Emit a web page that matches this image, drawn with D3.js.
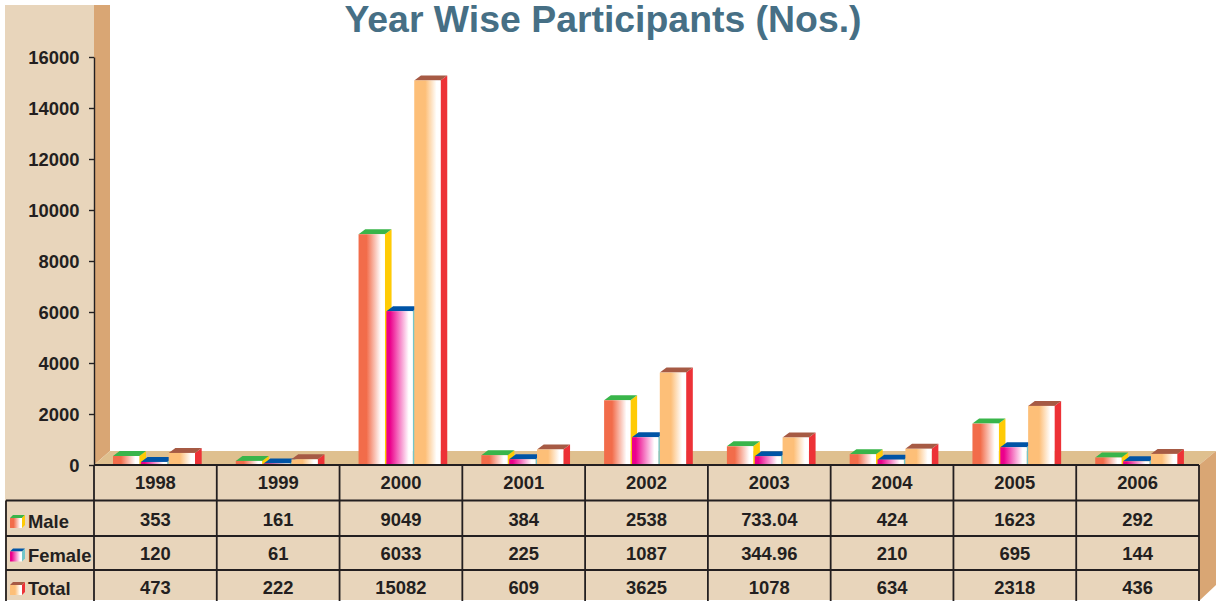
<!DOCTYPE html>
<html lang="en">
<head>
    <meta charset="UTF-8">
    <title>Year Wise Participants</title>
    <script src="https://d3js.org/d3.v7.min.js"></script>
    <style>
        html, body { margin: 0; padding: 0; background: #fff; overflow: hidden; }
        svg { display: block; }
        text { font-family: "Liberation Sans", Arial, sans-serif; font-weight: bold; fill: #231f20; }
    </style>
</head>
<body>
    <svg></svg>
    <script>
        const years = ["1998", "1999", "2000", "2001", "2002", "2003", "2004", "2005", "2006"];
        const seriesNames = ["Male", "Female", "Total"];
        const male = [353, 161, 9049, 384, 2538, 733.04, 424, 1623, 292];
        const female = [120, 61, 6033, 225, 1087, 344.96, 210, 695, 144];
        const total = [473, 222, 15082, 609, 3625, 1078, 634, 2318, 436];
        const yTicks = [0, 2000, 4000, 6000, 8000, 10000, 12000, 14000, 16000];

        const width = 1218;
        const height = 601;
        const plotLeft = 94, plotRight = 1199, plotTop = 57, base = 465;
        const dx = 6.7, dy = 5; // 3d depth of the bars
        const wallDx = 16, wallDy = 14;
        const rowLines = [500.5, 536, 570];
        const ink = "#231f20";
        const fontSize = "18.4px";

        const values = [male, female, total];
        const styles = [
            { front: "#f26c4a", top: "#39b54a", side: "#ffcb05", flat: 0.3 },
            { front: "#ec008c", top: "#0054a6", side: "#74c6c9", flat: 0.14 },
            { front: "#fdbf78", top: "#a65a44", side: "#ed3237", flat: 0.42 }
        ];

        const svg = d3.select("svg").attr("width", width).attr("height", height);

        const defs = svg.append("defs");
        styles.forEach((s, i) => {
            const grad = defs.append("linearGradient").attr("id", "grad" + i);
            grad.append("stop").attr("offset", 0).attr("stop-color", s.front);
            grad.append("stop").attr("offset", s.flat).attr("stop-color", s.front);
            grad.append("stop").attr("offset", 0.85).attr("stop-color", "#fff");
            grad.append("stop").attr("offset", 1).attr("stop-color", "#fff");
        });

        const x = d3.scaleBand().domain(years).range([plotLeft, plotRight]);
        const xInner = d3.scaleBand().domain(d3.range(3)).range([19, 101]).paddingInner(0.055);
        const y = d3.scaleLinear().domain([0, 16000]).range([base, plotTop]);

        // panel, wall and floor
        svg.append("rect").attr("x", 5).attr("y", 5).attr("width", plotRight - 5).attr("height", height - 6).attr("fill", "#e8d5bb");
        svg.append("rect").attr("x", plotLeft).attr("y", 5).attr("width", plotRight - plotLeft).attr("height", base - 5).attr("fill", "#fff");
        svg.append("path").attr("d", `M${plotLeft},5H${plotLeft + wallDx}V${base - wallDy}L${plotLeft},${base}Z`).attr("fill", "#d9a674");
        svg.append("path").attr("d", `M${plotLeft},${base}L${plotLeft + wallDx},${base - wallDy}H${plotRight + wallDx + 1}L${plotRight},${base}Z`).attr("fill", "#dfc08f");
        svg.append("path").attr("d", `M${plotRight},${base}L${plotRight + wallDx + 1},${base - wallDy}V${height - 16}L${plotRight},${height}Z`).attr("fill", "#d9a674");

        // bars
        seriesNames.forEach((name, i) => {
            const g = svg.append("g").attr("class", "bar-" + name);
            const bars = g.selectAll("g").data(values[i]).join("g")
                .attr("transform", (d, j) => `translate(${x(years[j]) + xInner(i)},0)`);
            const w = xInner.bandwidth();
            bars.append("path")
                .attr("d", d => `M${w},${y(d)}l${dx},${-dy}V${base}H${w}Z`)
                .attr("fill", styles[i].side);
            bars.append("path")
                .attr("d", d => `M0,${y(d)}l${dx},${-dy}H${w + dx}l${-dx},${dy}Z`)
                .attr("fill", styles[i].top);
            bars.append("rect")
                .attr("y", d => y(d))
                .attr("width", w)
                .attr("height", d => base - y(d))
                .attr("fill", `url(#grad${i})`);
        });

        // y axis
        const yAxis = svg.append("g")
            .attr("transform", `translate(${plotLeft},0)`)
            .call(d3.axisLeft(y).tickValues(yTicks).tickFormat(d => d).tickSize(5).tickPadding(9.5).tickSizeOuter(0));
        yAxis.selectAll("line").attr("stroke", ink).attr("stroke-width", 1.4);
        yAxis.select(".domain").attr("stroke", ink).attr("stroke-width", 1.4);
        yAxis.selectAll("text").style("font-size", fontSize).attr("dy", "0.34em");

        // title
        svg.append("text")
            .attr("x", 603).attr("y", 31.5)
            .attr("text-anchor", "middle")
            .style("font-size", "37.4px")
            .style("fill", "#466f85")
            .text("Year Wise Participants (Nos.)");

        // data table
        const grid = svg.append("g").attr("stroke", ink).attr("stroke-width", 1.8);
        grid.append("line").attr("x1", plotLeft).attr("x2", plotRight).attr("y1", base).attr("y2", base);
        grid.selectAll(".row").data(rowLines).join("line")
            .attr("class", "row")
            .attr("x1", 6).attr("x2", plotRight).attr("y1", d => d).attr("y2", d => d);
        grid.append("line").attr("x1", 6).attr("x2", 6).attr("y1", rowLines[0]).attr("y2", height);
        grid.selectAll(".col").data(years).join("line")
            .attr("class", "col")
            .attr("x1", d => x(d)).attr("x2", d => x(d)).attr("y1", base).attr("y2", height);
        grid.append("line").attr("x1", plotRight).attr("x2", plotRight).attr("y1", base).attr("y2", height);

        svg.selectAll(".year").data(years).join("text")
            .attr("class", "year")
            .attr("x", d => x(d) + x.bandwidth() / 2)
            .attr("y", 489)
            .attr("text-anchor", "middle")
            .style("font-size", fontSize)
            .text(d => d);

        const rowBaselines = [526, 560, 594];
        const labelBaselines = [528, 561.5, 595];
        values.forEach((vals, i) => {
            svg.selectAll(".cell" + i).data(vals).join("text")
                .attr("class", "cell" + i)
                .attr("x", (d, j) => x(years[j]) + x.bandwidth() / 2)
                .attr("y", rowBaselines[i])
                .attr("text-anchor", "middle")
                .style("font-size", fontSize)
                .text(d => d);

            // legend key
            const key = svg.append("g").attr("transform", `translate(10,${labelBaselines[i] - 10})`);
            key.append("path").attr("d", "M0,0l3,-3h12l-3,3Z").attr("fill", styles[i].top);
            key.append("path").attr("d", "M12,0l3,-3v10l-3,3Z").attr("fill", styles[i].side);
            key.append("rect").attr("width", 12).attr("height", 10).attr("fill", `url(#grad${i})`);
            svg.append("text")
                .attr("x", 28).attr("y", labelBaselines[i])
                .style("font-size", fontSize)
                .text(seriesNames[i]);
        });
    </script>
</body>
</html>
